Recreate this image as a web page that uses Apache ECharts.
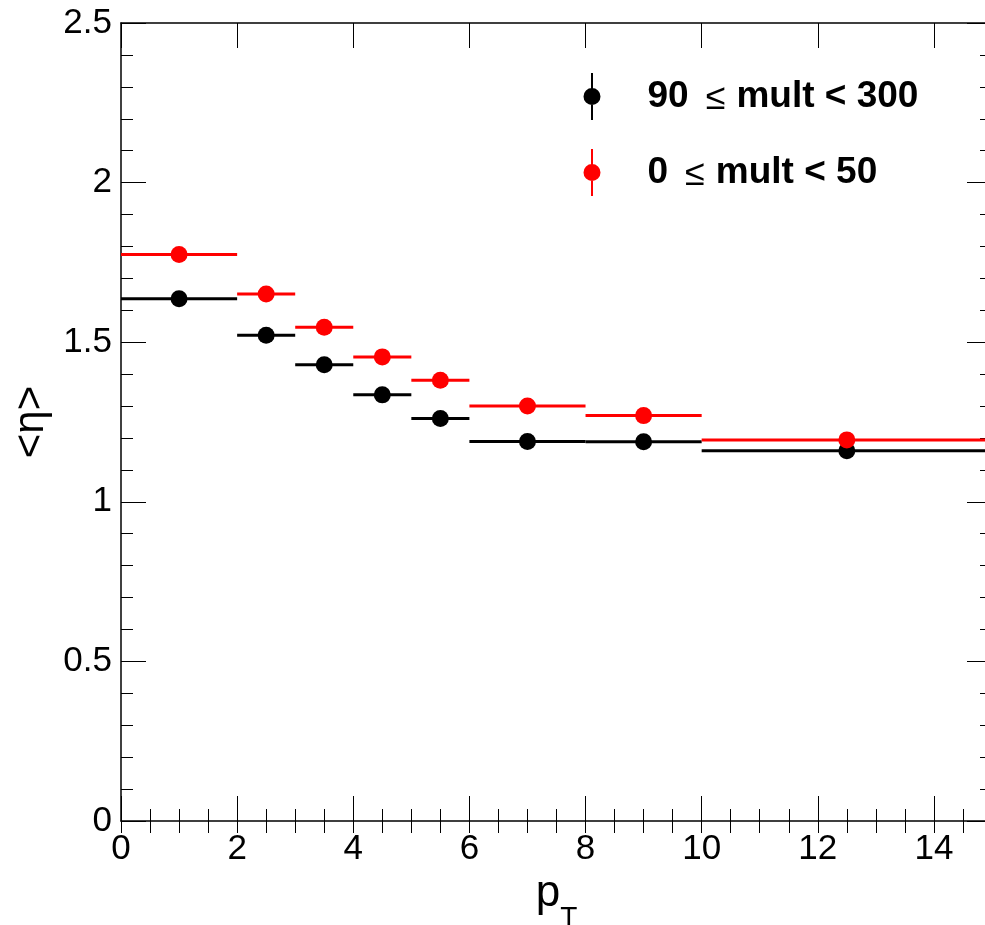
<!DOCTYPE html>
<html>
<head>
<meta charset="utf-8">
<script src="https://cdn.jsdelivr.net/npm/echarts@6/dist/echarts.min.js"></script>
<style>html,body{margin:0;padding:0;background:#fff;}#c{width:985px;height:925px;}</style>
</head>
<body>
<div id="c"></div>
<script>
// bins in pT
const binLow    = [0, 2, 3, 4, 5, 6, 8, 10];
const binHigh   = [2, 3, 4, 5, 6, 8, 10, 15];
const binCenter = [1, 2.5, 3.5, 4.5, 5.5, 7, 9, 12.5];
// <eta> values
const highMult = [1.636, 1.522, 1.429, 1.335, 1.261, 1.189, 1.188, 1.160]; // 90 <= mult < 300
const lowMult  = [1.775, 1.651, 1.547, 1.454, 1.381, 1.300, 1.270, 1.194]; // 0 <= mult < 50
const seriesNames = ['90 ≤ mult < 300', '0 ≤ mult < 50'];
const xTicks = [0, 2, 4, 6, 8, 10, 12, 14];
const yTicks = [0, 0.5, 1, 1.5, 2, 2.5];

const FONT = 'Liberation Sans, Arial, Helvetica, sans-serif';

function build(vals) {
  return vals.map((v, i) => [binLow[i], binHigh[i], binCenter[i], v]);
}
function makeRender(color) {
  return function (params, api) {
    const y = api.value(3);
    const lo = api.coord([api.value(0), y]);
    const hi = api.coord([api.value(1), y]);
    const c = api.coord([api.value(2), y]);
    return {
      type: 'group',
      children: [
        { type: 'line', shape: { x1: lo[0], y1: lo[1], x2: hi[0], y2: hi[1] }, style: { stroke: color, lineWidth: 3 } },
        { type: 'circle', shape: { cx: c[0], cy: c[1], r: 8.5 }, style: { fill: color } }
      ]
    };
  };
}

const chart = echarts.init(document.getElementById('c'), null, { renderer: 'canvas' });
const grid = { left: 121, top: 23, width: 871, height: 798, containLabel: false, outerBoundsMode: 'none' };
const axisLineStyle = { color: '#000', width: 1.5 };
const tickLine = { color: '#000', width: 1 };
const xMin = 0, xMax = 15;

const legendIcon = 'path://M7.5,0L9.5,0L9.5,47L7.5,47Z M0,23.5A8.5,8.5,0,1,1,17,23.5A8.5,8.5,0,1,1,0,23.5Z';

chart.setOption({
  animation: false,
  backgroundColor: '#fff',
  grid: grid,
  legend: {
    orient: 'vertical',
    left: 578.5,
    top: 68,
    itemWidth: 17,
    itemHeight: 47,
    itemGap: 29,
    data: seriesNames.map(n => ({ name: n, icon: legendIcon })),
    formatter: function (name) {
      const parts = name.split('≤');
      return '{g|}{b|' + parts[0].trim() + '}{s|≤}{b|' + parts[1].trim() + '}';
    },
    textStyle: {
      rich: {
        g: { width: 42 },
        b: { fontFamily: FONT, fontWeight: 'bold', fontSize: 37, color: '#000' },
        s: { fontFamily: FONT, fontSize: 36, color: '#000', padding: [6, 11, 0, 17] }
      }
    }
  },
  xAxis: [
    {
      type: 'value', position: 'bottom', min: xMin, max: xMax, interval: 2,
      name: '{p|p}{t|T}', nameLocation: 'middle', nameGap: 37,
      nameTextStyle: {
        rich: {
          p: { fontFamily: FONT, fontSize: 44, color: '#000', padding: [0, 0, 16, 0] },
          t: { fontFamily: FONT, fontSize: 28, color: '#000', verticalAlign: 'bottom' }
        }
      },
      axisLine: { show: true, onZero: false, lineStyle: axisLineStyle },
      axisTick: { show: true, inside: true, length: 25, lineStyle: tickLine },
      axisLabel: {
        show: true, margin: 11, fontFamily: FONT, fontSize: 35, color: '#000', showMaxLabel: false,
        formatter: v => (xTicks.indexOf(v) >= 0 ? String(v) : '')
      },
      splitLine: { show: false }
    },
    {
      type: 'value', position: 'bottom', min: xMin, max: xMax, interval: 0.5,
      axisLine: { show: false }, axisTick: { show: true, inside: true, length: 12, lineStyle: tickLine },
      axisLabel: { show: false }, splitLine: { show: false }
    },
    {
      type: 'value', position: 'top', min: xMin, max: xMax, interval: 2,
      axisLine: { show: true, onZero: false, lineStyle: axisLineStyle },
      axisTick: { show: true, inside: true, length: 25, lineStyle: tickLine },
      axisLabel: { show: false }, splitLine: { show: false }
    },
    {
      type: 'value', position: 'top', min: xMin, max: xMax, interval: 0.5,
      axisLine: { show: false }, axisTick: { show: true, inside: true, length: 12, lineStyle: tickLine },
      axisLabel: { show: false }, splitLine: { show: false }
    }
  ],
  yAxis: [
    {
      type: 'value', position: 'left', min: 0, max: 2.5, interval: 0.5,
      name: '<η>', nameLocation: 'middle', nameGap: 58, nameRotate: 90,
      nameTextStyle: { fontFamily: FONT, fontSize: 42, color: '#000' },
      axisLine: { show: true, onZero: false, lineStyle: axisLineStyle },
      axisTick: { show: true, inside: true, length: 25, lineStyle: tickLine },
      minorTick: { show: true, splitNumber: 5, length: 12, lineStyle: tickLine },
      axisLabel: {
        show: true, margin: 9, fontFamily: FONT, fontSize: 35, color: '#000',
        formatter: v => (yTicks.indexOf(v) >= 0 ? String(v) : '')
      },
      splitLine: { show: false }
    },
    {
      type: 'value', position: 'right', min: 0, max: 2.5, interval: 0.5,
      axisLine: { show: true, onZero: false, lineStyle: axisLineStyle },
      axisTick: { show: true, inside: true, length: 25, lineStyle: tickLine },
      minorTick: { show: true, splitNumber: 5, length: 12, lineStyle: tickLine },
      axisLabel: { show: false }, splitLine: { show: false }
    }
  ],
  series: [
    {
      name: seriesNames[0], type: 'custom', xAxisIndex: 0, yAxisIndex: 0,
      itemStyle: { color: '#000000' },
      renderItem: makeRender('#000000'),
      encode: { x: [0, 1, 2], y: 3 },
      data: build(highMult), z: 3
    },
    {
      name: seriesNames[1], type: 'custom', xAxisIndex: 0, yAxisIndex: 0,
      itemStyle: { color: '#ff0000' },
      renderItem: makeRender('#ff0000'),
      encode: { x: [0, 1, 2], y: 3 },
      data: build(lowMult), z: 4
    }
  ]
});
</script>
</body>
</html>
